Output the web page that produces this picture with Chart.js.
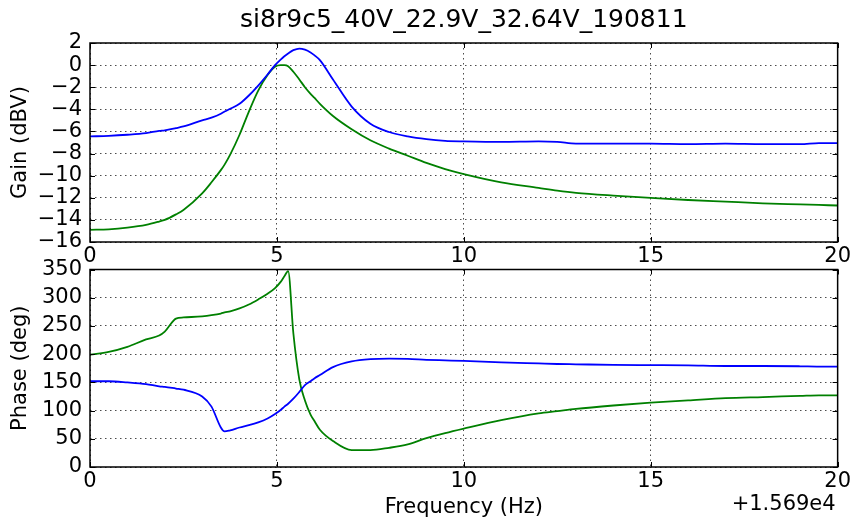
<!DOCTYPE html>
<html><head><meta charset="utf-8">
<script src="https://cdn.jsdelivr.net/npm/chart.js@4"></script>
<style>
html,body{margin:0;padding:0;background:#fff;}
#wrap{position:relative;width:853px;height:521px;background:#fff;}
canvas{position:absolute;left:0;top:0;}
</style></head><body>
<div id="wrap"><canvas id="gain" width="853" height="521" style="width:853px;height:521px"></canvas><canvas id="phase" width="853" height="521" style="width:853px;height:521px"></canvas></div>
<script>
const chartTitle = 'si8r9c5_40V_22.9V_32.64V_190811';
const freqOffsetLabel = '+1.569e4';
const xTicks = [0, 5, 10, 15, 20];
const gainTicks = [-16, -14, -12, -10, -8, -6, -4, -2, 0, 2];
const phaseTicks = [0, 50, 100, 150, 200, 250, 300, 350];

// frequency relative to 15690 Hz
const freq = [0, 0.5, 1, 1.5, 1.85, 2, 2.3, 2.5, 3, 3.25, 3.5, 3.6, 3.75, 4, 4.25, 4.5, 4.75, 4.95, 5.1, 5.2, 5.3, 5.44, 5.6, 5.75, 5.9, 6, 6.15, 6.5, 7, 7.5, 8, 8.5, 9, 9.5, 10, 11, 12, 12.5, 13, 14, 15, 16, 17, 18, 19, 19.5, 20];
const gainBlue = [-6.45, -6.4, -6.3, -6.15, -5.95, -5.9, -5.7, -5.55, -5.0, -4.75, -4.4, -4.2, -3.95, -3.5, -2.75, -1.85, -0.85, 0.0, 0.5, 0.8, 1.05, 1.35, 1.5, 1.4, 1.15, 0.9, 0.45, -1.3, -3.75, -5.3, -6.05, -6.45, -6.7, -6.85, -6.9, -6.95, -6.9, -6.95, -7.1, -7.1, -7.1, -7.15, -7.1, -7.15, -7.15, -7.05, -7.05];
const gainGreen = [-14.9, -14.85, -14.7, -14.45, -14.15, -14.0, -13.5, -13.1, -11.6, -10.6, -9.5, -9.0, -8.1, -6.3, -4.2, -2.3, -0.9, -0.15, 0, 0, -0.1, -0.6, -1.3, -2.0, -2.6, -2.95, -3.5, -4.6, -5.8, -6.8, -7.55, -8.2, -8.85, -9.4, -9.85, -10.6, -11.1, -11.35, -11.55, -11.8, -12.0, -12.2, -12.35, -12.5, -12.6, -12.65, -12.7];
const phaseBlue = [152, 152, 150, 147, 143, 142, 139, 137, 125, 107, 70, 63, 65, 70, 74, 79, 86, 94, 101, 107, 112, 121, 133, 145, 152, 157, 163, 177, 187, 191, 192, 191.5, 190, 189, 188, 185.5, 183.5, 182.5, 182, 181, 180.5, 180, 179, 179, 178.5, 178, 178];
const phaseGreen = [199, 204, 213, 226, 233, 240, 263, 265, 267, 269, 272, 274, 276, 281, 288, 297, 307, 317, 328, 338, 347, 237, 155, 118, 93, 82, 66, 46, 30, 30, 34, 40, 51, 60, 68, 83, 95, 99, 103, 109, 114, 118, 122, 124, 126, 127, 127];

const FONT = 'DejaVu Sans';
const FS = 21;
Chart.defaults.font.family = FONT;
Chart.defaults.color = '#000';
Chart.defaults.animation = false;

const pts = (ys) => freq.map((f, i) => ({x: f, y: ys[i]}));
const fmt = (v) => v < 0 ? '\u2212' + Math.abs(v) : String(v);

const framePlugin = {
  id: 'frame',
  afterDraw(chart) {
    const {ctx, chartArea: a, scales} = chart;
    ctx.save();
    ctx.strokeStyle = '#000';
    ctx.lineWidth = 1;
    ctx.beginPath();
    scales.x.ticks.forEach(t => {
      const px = Math.round(scales.x.getPixelForValue(t.value)) + 0.5;
      ctx.moveTo(px, a.top); ctx.lineTo(px, a.top + 5);
      ctx.moveTo(px, a.bottom); ctx.lineTo(px, a.bottom - 5);
    });
    scales.y.ticks.forEach(t => {
      const py = Math.round(scales.y.getPixelForValue(t.value)) + 0.5;
      ctx.moveTo(a.left, py); ctx.lineTo(a.left + 5, py);
      ctx.moveTo(a.right, py); ctx.lineTo(a.right - 5, py);
    });
    ctx.stroke();
    ctx.lineWidth = 1.5;
    ctx.strokeRect(a.left, a.top, a.right - a.left, a.bottom - a.top);
    ctx.restore();
  }
};

const titlePlugin = {
  id: 'mplTitle',
  afterDraw(chart) {
    const {ctx, chartArea: a} = chart;
    ctx.save();
    ctx.font = '25px "' + FONT + '"';
    ctx.fillStyle = '#000';
    ctx.textAlign = 'center';
    ctx.textBaseline = 'alphabetic';
    ctx.fillText(chartTitle, (a.left + a.right) / 2, 26.5);
    ctx.restore();
  }
};

const offsetPlugin = {
  id: 'offsetText',
  afterDraw(chart) {
    const {ctx, chartArea: a} = chart;
    ctx.save();
    ctx.font = FS + 'px "' + FONT + '"';
    ctx.fillStyle = '#000';
    ctx.textAlign = 'right';
    ctx.textBaseline = 'middle';
    ctx.fillText(freqOffsetLabel, a.right - 2, 505);
    ctx.restore();
  }
};

function xScale(showTitle, axisHeight) {
  return {
    type: 'linear', min: 0, max: 20,
    afterBuildTicks: s => { s.ticks = xTicks.map(v => ({value: v})); },
    afterFit: s => { s.height = axisHeight; },
    ticks: {callback: v => fmt(v), font: {size: FS}, padding: 2, maxRotation: 0, autoSkip: false},
    grid: {color: 'rgba(0,0,0,0.7)', lineWidth: 1, drawTicks: false},
    border: {display: false, dash: [1.5, 3.5]},
    title: showTitle ? {display: true, text: 'Frequency (Hz)', font: {size: FS}, padding: {top: 0, bottom: 1}, align: 'center'} : {display: false}
  };
}
function yScale(min, max, ticksArr, label) {
  return {
    type: 'linear', min: min, max: max,
    afterBuildTicks: s => { s.ticks = ticksArr.map(v => ({value: v})); },
    afterFit: s => { s.width = 90; },
    ticks: {callback: v => fmt(v), font: {size: FS}, padding: 8, autoSkip: false},
    grid: {color: 'rgba(0,0,0,0.7)', lineWidth: 1, drawTicks: false},
    border: {display: false, dash: [1.5, 3.5]},
    title: {display: true, text: label, font: {size: FS}, padding: {top: 8, bottom: 0}}
  };
}
const ds = (label, data, color) => ({
  label, data, borderColor: color, backgroundColor: color, borderWidth: 1.8,
  pointRadius: 0, fill: false, tension: 0.4, cubicInterpolationMode: 'monotone'
});

new Chart(document.getElementById('gain'), {
  type: 'line',
  data: {datasets: [ds('Gain A', pts(gainBlue), '#0000ff'), ds('Gain B', pts(gainGreen), '#008000')]},
  options: {
    responsive: false,
    layout: {padding: {left: 0, right: 15, top: 43, bottom: 521 - 242 - 30}},
    plugins: {legend: {display: false}, tooltip: {enabled: false}, title: {display: false}},
    scales: {x: xScale(false, 30), y: yScale(-16, 2, gainTicks, 'Gain (dBV)')}
  },
  plugins: [framePlugin, titlePlugin]
});

new Chart(document.getElementById('phase'), {
  type: 'line',
  data: {datasets: [ds('Phase A', pts(phaseBlue), '#0000ff'), ds('Phase B', pts(phaseGreen), '#008000')]},
  options: {
    responsive: false,
    layout: {padding: {left: 0, right: 15, top: 269.5, bottom: 0}},
    plugins: {legend: {display: false}, tooltip: {enabled: false}, title: {display: false}},
    scales: {x: xScale(true, 521 - 467), y: yScale(0, 350, phaseTicks, 'Phase (deg)')}
  },
  plugins: [framePlugin, offsetPlugin]
});
</script>
</body></html>
